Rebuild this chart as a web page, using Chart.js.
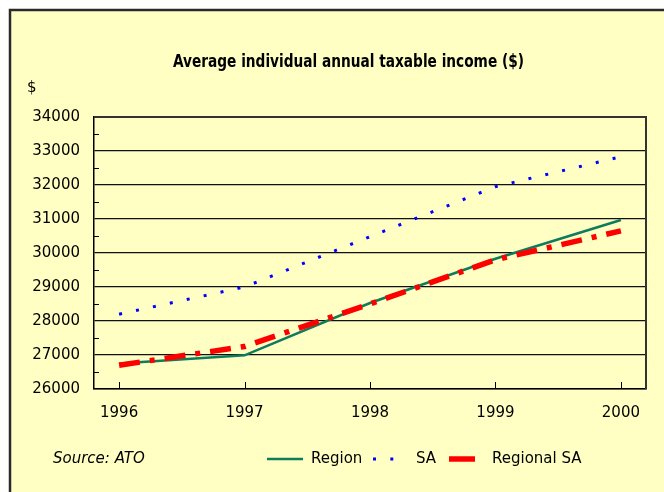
<!DOCTYPE html>
<html>
<head>
<meta charset="utf-8">
<script src="https://cdn.jsdelivr.net/npm/chart.js@4/dist/chart.umd.min.js"></script>
<style>
  html, body { margin: 0; padding: 0; background: #fff; }
  canvas { display: block; }
</style>
</head>
<body>
<canvas id="incomeChart" width="664" height="492"></canvas>
<script>
const years = [1996, 1997, 1998, 1999, 2000];
const region = [26750, 26990, 28530, 29830, 30970];
const sa = [28200, 29000, 30480, 31950, 32830];
const regionalSa = [26700, 27250, 28500, 29800, 30650];
const yTicks = [26000, 27000, 28000, 29000, 30000, 31000, 32000, 33000, 34000];

const FONT = "'DejaVu Sans', 'Liberation Sans', sans-serif";
const BG = '#ffffc4';

const toPoints = vals => years.map((x, i) => ({ x: x, y: vals[i] }));

// frame, title, minor ticks, legend and source note
const decor = {
  id: 'decor',
  beforeDraw(chart) {
    const c = chart.ctx;
    c.save();
    c.fillStyle = '#fff';
    c.fillRect(0, 0, chart.width, chart.height);
    c.fillStyle = BG;
    c.fillRect(10, 10, chart.width, chart.height);
    c.strokeStyle = '#2a2a2a';
    c.lineWidth = 2.5;
    c.beginPath();
    c.moveTo(10, chart.height + 5);
    c.lineTo(10, 10);
    c.lineTo(chart.width + 5, 10);
    c.stroke();
    c.restore();
  },
  afterDraw(chart) {
    const c = chart.ctx;
    const a = chart.chartArea;
    const xs = chart.scales.x, ys = chart.scales.y;
    c.save();

    // right & top border of plot
    c.strokeStyle = '#333';
    c.lineWidth = 2;
    c.beginPath();
    c.moveTo(a.left, a.top);
    c.lineTo(a.right, a.top);
    c.lineTo(a.right, a.bottom);
    c.stroke();

    // minor ticks on y axis
    c.strokeStyle = '#000';
    c.lineWidth = 1;
    c.beginPath();
    for (let v = yTicks[0] + 500; v < yTicks[yTicks.length - 1]; v += 1000) {
      const py = Math.round(ys.getPixelForValue(v)) + 0.5;
      c.moveTo(a.left, py);
      c.lineTo(a.left + 5, py);
    }
    // inward ticks on x axis
    years.forEach(yr => {
      const px = Math.round(xs.getPixelForValue(yr)) + 0.5;
      c.moveTo(px, a.bottom);
      c.lineTo(px, a.bottom - 7);
    });
    c.stroke();

    // title
    c.fillStyle = '#000';
    c.textBaseline = 'middle';
    c.font = "bold 17px 'DejaVu Sans Condensed', 'Liberation Sans Narrow', sans-serif";
    const title = 'Average individual annual taxable income ($)';
    const w = c.measureText(title).width;
    c.save();
    c.translate(173, 63);
    c.scale(351 / w, 1);
    c.textAlign = 'left';
    c.fillText(title, 0, 0);
    c.restore();

    c.font = '15px ' + FONT;
    c.textAlign = 'left';
    c.fillText('$', 27, 88);

    c.font = 'italic 15px ' + FONT;
    c.fillText('Source: ATO', 53, 459);

    // legend
    const ly = 459;
    const ds = chart.data.datasets;
    const items = [
      { d: ds[0], x0: 267, x1: 303, tx: 311 },
      { d: ds[1], x0: 373, x1: 395, tx: 416 },
      { d: ds[2], x0: 449, x1: 475, tx: 492 }
    ];
    items.forEach(it => {
      c.strokeStyle = it.d.borderColor;
      c.lineWidth = it.d.borderWidth;
      c.lineCap = 'butt';
      c.setLineDash(it.d === ds[2] ? [] : (it.d.borderDash || []));
      c.beginPath();
      c.moveTo(it.x0, ly);
      c.lineTo(it.x1, ly);
      c.stroke();
      c.setLineDash([]);
      c.fillStyle = '#000';
      c.font = '15px ' + FONT;
      c.fillText(it.d.label, it.tx, ly);
    });
    c.restore();
  }
};

new Chart(document.getElementById('incomeChart'), {
  type: 'line',
  data: {
    datasets: [{
      label: 'Region',
      data: toPoints(region),
      borderColor: '#0e7c5a',
      borderWidth: 2.5,
      pointRadius: 0,
      order: 1
    }, {
      label: 'SA',
      data: toPoints(sa),
      borderColor: '#0000ff',
      borderWidth: 3,
      borderDash: [3, 14.3],
      pointRadius: 0,
      order: 2
    }, {
      label: 'Regional SA',
      data: toPoints(regionalSa),
      borderColor: '#ff0000',
      borderWidth: 5.5,
      borderDash: [21, 10, 5, 10],
      borderCapStyle: 'butt',
      pointRadius: 0,
      order: 0
    }]
  },
  options: {
    responsive: false,
    animation: false,
    events: [],
    layout: { padding: { top: 117, right: 18, left: 0, bottom: 0 } },
    plugins: {
      legend: { display: false },
      title: { display: false },
      tooltip: { enabled: false }
    },
    scales: {
      x: {
        type: 'linear',
        min: 1995.8,
        max: 2000.2,
        afterBuildTicks: s => { s.ticks = years.map(v => ({ value: v })); },
        afterFit: s => { s.height = 103; },
        grid: { display: false, drawTicks: false },
        border: { color: '#000', width: 1.5 },
        ticks: {
          color: '#000',
          font: { family: FONT, size: 15 },
          padding: 15,
          maxRotation: 0,
          callback: v => String(v)
        }
      },
      y: {
        min: yTicks[0],
        max: yTicks[yTicks.length - 1],
        afterBuildTicks: s => { s.ticks = yTicks.map(v => ({ value: v })); },
        afterFit: s => { s.width = 94; },
        grid: { color: '#111', lineWidth: 1.2, drawTicks: false },
        border: { color: '#000', width: 1.5 },
        ticks: {
          color: '#000',
          font: { family: FONT, size: 15 },
          padding: 14,
          callback: v => String(v)
        }
      }
    }
  },
  plugins: [decor]
});
</script>
</body>
</html>
